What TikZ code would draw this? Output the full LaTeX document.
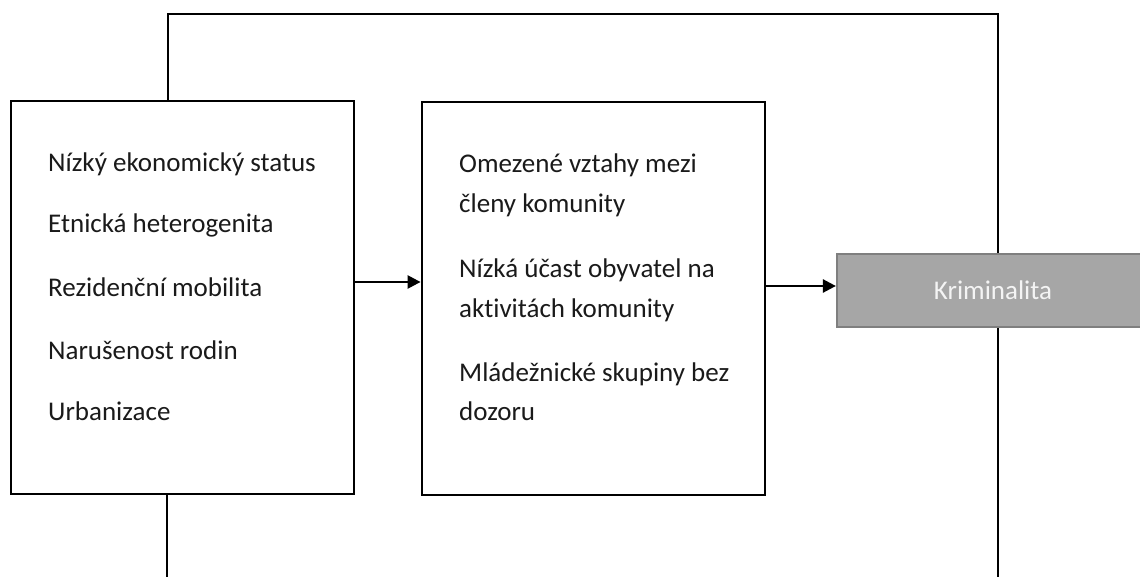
\documentclass[tikz,border=0pt]{standalone}
\usepackage{fontspec}
\setmainfont{Carlito}[Ligatures=NoCommon]
\usetikzlibrary{arrows.meta,calc}
\definecolor{krimfill}{HTML}{A6A6A6}
\definecolor{krimdraw}{HTML}{7F7F7F}
\definecolor{krimtext}{HTML}{F4F4F4}
\definecolor{txt}{HTML}{1A1A1A}
\begin{document}
\begin{tikzpicture}[x=1pt,y=-1pt,
  box/.style={draw=black,line width=2.8pt,fill=white,minimum width=343pt,minimum height=393pt,inner sep=0pt},
  krimbox/.style={draw=krimdraw,line width=2.2pt,fill=krimfill,minimum width=312pt,minimum height=73pt,inner sep=0pt,text=krimtext},
  item/.style={anchor=base west,inner sep=0pt,text=txt,font=\fontsize{27}{32}\selectfont},
  link/.style={line width=2.4pt,draw=black},
  arr/.style={link,-{Triangle[length=13pt,width=13pt]}}]
\path[use as bounding box,clip] (0,0) rectangle (1140,577);
\coordinate (tl) at (168,14);
\coordinate (tr) at (998,14);
\coordinate (bl) at (167,600);
\coordinate (br) at (998,600);
\node[box] (left) at (182.5,297.5) {};
\node[box] (mid) at (593.5,298.5) {};
\node[krimbox,font=\fontsize{27}{32}\selectfont] (krim) at (993,290.5) {Kriminalita};
\draw[link] (left.north -| tl) -- (tl) -- (tr) -- (krim.north -| tr);
\draw[link] (left.south -| bl) -- (bl);
\draw[link] (krim.south -| br) -- (br);
\draw[arr] (left.east |- 0,282) -- (mid.west |- 0,282);
\draw[arr] (mid.east |- 0,286) -- (krim.west |- 0,286);
% left box texts
\node[item] (l1) at (48,172) {Nízký ekonomický status};
\node[item] (l2) at (48,233) {Etnická heterogenita};
\node[item] (l3) at (48,297) {Rezidenční mobilita};
\node[item] (l4) at (48,359) {Narušenost rodin};
\node[item] (l5) at (48,420) {Urbanizace};
% middle box texts
\node[item] (m1) at (459,173) {Omezené vztahy mezi};
\node[item] (m2) at (459,213) {členy komunity};
\node[item] (m3) at (459,277) {Nízká účast obyvatel na};
\node[item] (m4) at (459,317) {aktivitách komunity};
\node[item] (m5) at (459,381) {Mládežnické skupiny bez};
\node[item] (m6) at (459,420) {dozoru};
\end{tikzpicture}
\end{document}
